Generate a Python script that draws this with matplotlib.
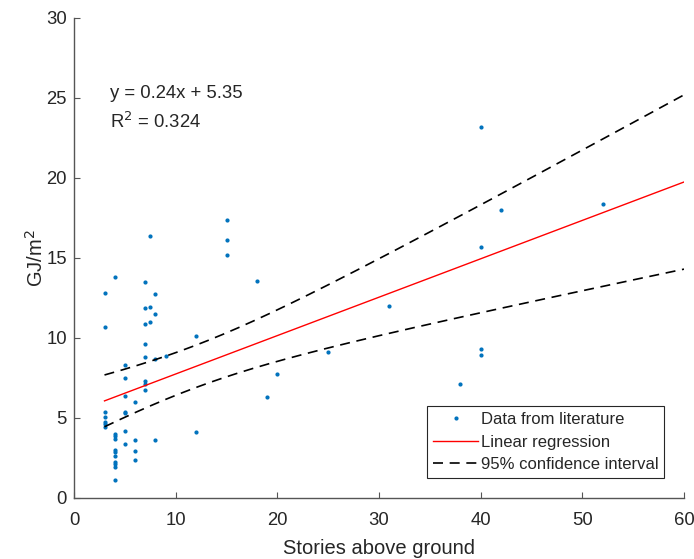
import numpy as np
import matplotlib
matplotlib.use("Agg")
import matplotlib.pyplot as plt

plt.rcParams['font.family'] = ['Liberation Sans', 'DejaVu Sans']

# Data
stories = [3, 3, 3, 3, 3, 3, 3,
           4, 4, 4, 4, 4, 4, 4, 4, 4, 4, 4,
           5, 5, 5, 5, 5, 5, 5,
           6, 6, 6, 6,
           7, 7, 7, 7, 7, 7, 7, 7,
           7.5, 7.5, 7.5,
           8, 8, 8, 8,
           9,
           12, 12,
           15, 15, 15,
           18, 19, 20, 25, 31, 38,
           40, 40, 40, 40,
           42, 52]
energy = [12.8, 10.7, 5.35, 5.05, 4.75, 4.6, 4.45,
          13.8, 4.0, 3.85, 3.7, 3.0, 2.85, 2.65, 2.25, 2.1, 1.95, 1.15,
          8.3, 7.5, 6.4, 5.4, 5.3, 4.2, 3.4,
          6.0, 3.6, 2.95, 2.35,
          13.5, 11.9, 10.85, 9.65, 8.8, 7.3, 7.15, 6.75,
          16.4, 11.95, 11.0,
          12.75, 11.5, 8.7, 3.6,
          8.85,
          10.1, 4.1,
          17.4, 16.1, 15.2,
          13.55, 6.3, 7.75, 9.1, 12.0, 7.1,
          23.2, 15.7, 9.3, 8.95,
          18.0, 18.4]

slope = 0.24
intercept = 5.35
r_squared = 0.324
f_crit = 3.15  # F(0.95; 2, n-2) for simultaneous confidence bounds

x = np.array(stories, dtype=float)
yv = np.array(energy, dtype=float)
n = len(x)
resid = yv - (slope * x + intercept)
s = np.sqrt(np.sum(resid ** 2) / (n - 2))
xbar = x.mean()
sxx = np.sum((x - xbar) ** 2)
crit = np.sqrt(2 * f_crit)

xfit = np.linspace(min(stories), 60, 200)
yfit = slope * xfit + intercept
half = crit * s * np.sqrt(1.0 / n + (xfit - xbar) ** 2 / sxx)

fig = plt.figure(figsize=(6.94, 5.59), dpi=100)
ax = fig.add_axes([74 / 694, 61 / 559, 610 / 694, 480 / 559])

ax.plot(x, yv, '.', color='#0072BD', markersize=4, label='Data from literature')
ax.plot(xfit, yfit, '-', color='red', lw=1.0, label='Linear regression')
ax.plot(xfit, yfit + half, '--', color='black', lw=1.2, dashes=(6, 4),
        label='95% confidence interval')
ax.plot(xfit, yfit - half, '--', color='black', lw=1.2, dashes=(6, 4))

ax.set_xlim(0, 60)
ax.set_ylim(0, 30)
ax.set_xticks(range(0, 61, 10))
ax.set_yticks(range(0, 31, 5))

tc = '#262626'
for sp in ['top', 'right']:
    ax.spines[sp].set_visible(False)
for sp in ['left', 'bottom']:
    ax.spines[sp].set_color('#555555')
    ax.spines[sp].set_linewidth(1.0)
ax.tick_params(direction='in', length=4, color='#555555', labelcolor=tc,
               labelsize=13.3)
ax.tick_params(axis='x', pad=10)
ax.tick_params(axis='y', pad=5)
ax.set_xlabel('Stories above ground', fontsize=14.5, color=tc, labelpad=7)
ax.set_ylabel('GJ/m$^2$', fontsize=14.5, color=tc, labelpad=0)

ax.text(3.5, 25.3, f'y = {slope}x + {intercept}', fontsize=13.3, color=tc,
        va='center')
ax.text(3.5, 23.5, f'R$^2$ = {r_squared}', fontsize=13.3, color=tc, va='center')

leg = ax.legend(loc='lower right', fontsize=12, frameon=True, fancybox=False,
                edgecolor='#262626', framealpha=1, borderaxespad=1.2,
                handlelength=2.7, handletextpad=0.15, borderpad=0.35,
                labelspacing=0.45)
leg.get_frame().set_linewidth(0.8)
for t in leg.get_texts():
    t.set_color(tc)

fig.savefig('out.png', dpi=100)
